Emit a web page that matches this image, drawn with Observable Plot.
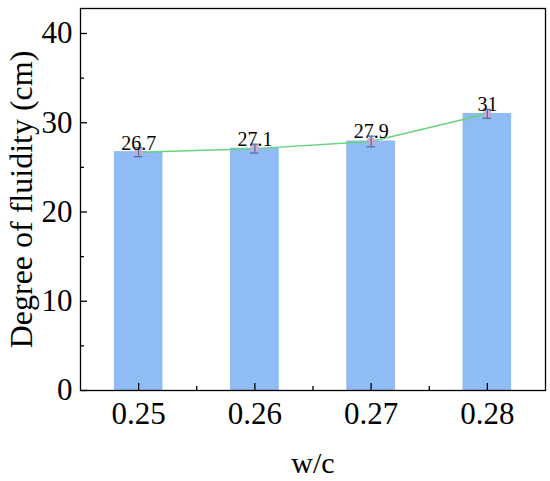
<!DOCTYPE html>
<html>
<head>
<meta charset="utf-8">
<script src="https://cdn.jsdelivr.net/npm/d3@7"></script>
<script src="https://cdn.jsdelivr.net/npm/@observablehq/plot@0.6"></script>
<style>
  html, body { margin: 0; padding: 0; background: #fff; }
  #chart { width: 550px; height: 481px; }
</style>
</head>
<body>
<div id="chart"></div>
<script>
const categories = [0.25, 0.26, 0.27, 0.28];
const values = [26.7, 27.1, 27.9, 31];
const errors = [0.5, 0.5, 0.6, 0.5];
const valueLabels = ["26.7", "27.1", "27.9", "31"];
const yTicks = [0, 10, 20, 30, 40];
const yMinorTicks = [5, 15, 25, 35];
const xMinorTicks = [0.255, 0.265, 0.275];
const xTitle = "w/c";
const yTitle = "Degree of fluidity (cm)";

const data = categories.map((c, i) => ({x: c, v: values[i], e: errors[i], label: valueLabels[i]}));

const xDomain = [0.245, 0.285];
const barHalf = 0.00205;
const capHalf = 0.00036;
const font = "Liberation Serif, Times New Roman, serif";

const chart = Plot.plot({
  width: 550,
  height: 481,
  marginLeft: 80,
  marginRight: 5,
  marginTop: 8,
  marginBottom: 91,
  style: {fontFamily: font, background: "#fff", color: "#000"},
  x: {type: "linear", domain: xDomain},
  y: {domain: [0, 42.8]},
  marks: [
    Plot.rectY(data, {x1: d => d.x - barHalf, x2: d => d.x + barHalf, y1: 0, y2: "v", fill: "#8fbcf5", stroke: "#84b3ef", strokeWidth: 0.8}),
    Plot.line(data, {x: "x", y: "v", stroke: "#66d47c", strokeWidth: 1.5}),
    Plot.dot(data, {x: "x", y: "v", r: 4.5, fill: "#c8a6d8", fillOpacity: 0.9, stroke: "none"}),
    Plot.ruleX(data, {x: "x", y1: d => d.v - d.e, y2: d => d.v + d.e, stroke: "#4d6c8e", strokeWidth: 1.2}),
    Plot.ruleY(data, {y: d => d.v - d.e, x1: d => d.x - capHalf, x2: d => d.x + capHalf, stroke: "#4d6c8e", strokeWidth: 1.2}),
    Plot.ruleY(data, {y: d => d.v + d.e, x1: d => d.x - capHalf, x2: d => d.x + capHalf, stroke: "#4d6c8e", strokeWidth: 1.2}),
    Plot.text(data, {x: "x", y: d => d.v + d.e, text: "label", lineAnchor: "bottom", dy: 2, fontSize: 20, fill: "#000"}),
    // inward ticks
    Plot.ruleX(categories, {x: d => d, y1: 0, y2: 0, insetBottom: 7, stroke: "#000", strokeWidth: 1.3}),
    Plot.ruleX(xMinorTicks, {x: d => d, y1: 0, y2: 0, insetBottom: 4, stroke: "#000", strokeWidth: 1.3}),
    Plot.ruleY(yTicks, {y: d => d, x1: xDomain[0], x2: xDomain[0], insetRight: -7, stroke: "#000", strokeWidth: 1.3}),
    Plot.ruleY(yMinorTicks, {y: d => d, x1: xDomain[0], x2: xDomain[0], insetRight: -4, stroke: "#000", strokeWidth: 1.3}),
    Plot.frame({stroke: "#000", strokeWidth: 1.3}),
    Plot.axisX({ticks: categories, tickSize: 0, tickPadding: 11, tickFormat: d3.format(".2f"), fontSize: 31, label: null}),
    Plot.axisY({ticks: yTicks, tickSize: 0, tickPadding: 8, fontSize: 31, label: null}),
    Plot.text([xTitle], {frameAnchor: "bottom", dy: 73, lineAnchor: "middle", textAnchor: "middle", fontSize: 30, fill: "#000"}),
    Plot.text([yTitle], {frameAnchor: "left", rotate: -90, dx: -59, lineAnchor: "middle", textAnchor: "middle", fontSize: 32, fill: "#000"})
  ]
});
document.getElementById("chart").appendChild(chart);
</script>
</body>
</html>
